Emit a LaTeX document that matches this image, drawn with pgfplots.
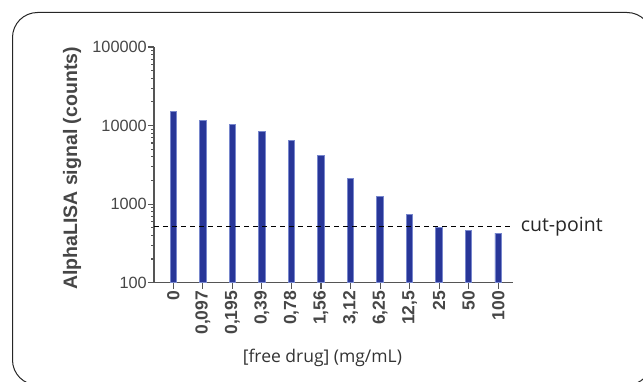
\documentclass[border=0pt]{standalone}
\usepackage{pgfplots}
\pgfplotsset{compat=1.18}
\usepackage{fontspec}
\setmainfont{Liberation Sans}
\newfontfamily\opensans{Open Sans}
\definecolor{barfill}{RGB}{40,54,152}
\definecolor{baredge}{RGB}{120,135,205}
\definecolor{axgray}{RGB}{85,85,85}
\definecolor{txtgray}{RGB}{70,70,70}
\begin{document}
\begin{tikzpicture}[x=1pt,y=1pt]
\useasboundingbox (0,0) rectangle (643,381);
\draw[line width=1pt, rounded corners=25pt, black!85] (12.5,-4) rectangle (652,368.5);
\begin{axis}[
  at={(154pt,98.3pt)}, anchor=south west, 
  scale only axis, width=359pt, height=235.7pt,
  ymode=log, ymin=100, ymax=100000, log origin=infty,
  xmin=-0.653, xmax=11.5,
  axis x line=bottom, axis y line=left,
  axis line style={-, axgray, line width=1.1pt},
  tick style={axgray, line width=1.1pt},
  tick align=outside, major tick length=6pt,
  xtick={0,...,11},
  xticklabels={0,{0,097},{0,195},{0,39},{0,78},{1,56},{3,12},{6,25},{12,5},25,50,100},
  xticklabel style={rotate=90, anchor=east, font=\fontsize{17.5}{17.5}\selectfont\bfseries, text=txtgray, inner sep=2pt},
  ytick={100,1000,10000,100000},
  yticklabels={100,1000,10000,100000},
  yticklabel style={font=\fontsize{16.3}{16.3}\selectfont, text=txtgray, inner sep=1pt},
  minor ytick={}, 
  ylabel={AlphaLISA signal (counts)},
  ylabel style={at={(axis description cs:-0.228,0.4845)}, rotate=0, anchor=center, font=\fontsize{19.5}{20}\selectfont\bfseries, text=txtgray},
  xlabel={[free drug] (mg/mL)},
  xlabel style={at={(axis description cs:0.469,-0.3195)}, anchor=center, font=\opensans\fontsize{17.5}{18}\selectfont, text=black!80},
  clip=false,
]
\addplot[ybar, bar width=6.5pt, fill=barfill, draw=baredge, line width=0.9pt] coordinates {
 (0,15000) (1,11750) (2,10450) (3,8440) (4,6540) (5,4130) (6,2105) (7,1257) (8,741) (9,501) (10,459) (11,429)
};
\addplot[black, dashed, line width=0.9pt, dash pattern=on 5pt off 4pt] coordinates {(-0.653,522) (11.5,522)}
  node[pos=1, anchor=west, xshift=4pt, font=\opensans\fontsize{19.5}{20}\selectfont, text=black!85] {cut-point};
\end{axis}
\end{tikzpicture}
\end{document}
